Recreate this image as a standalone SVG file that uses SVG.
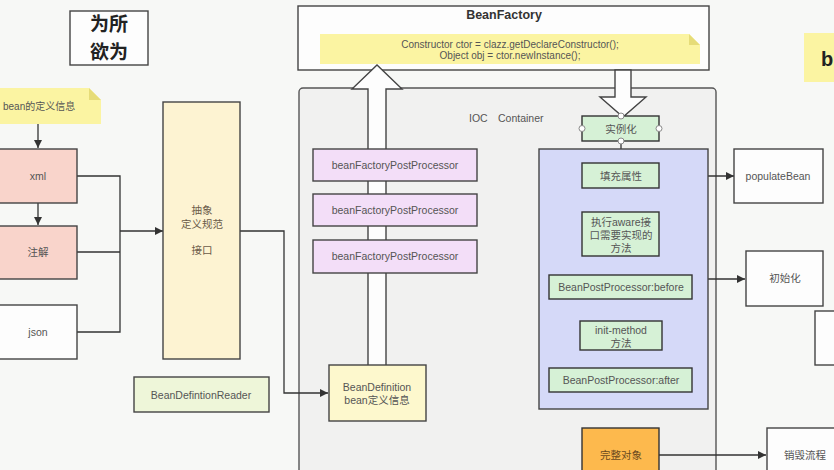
<svg xmlns="http://www.w3.org/2000/svg" width="834" height="470" viewBox="0 0 834 470">
<defs>
<style>
.t{font-family:"Liberation Sans","Noto Sans CJK SC",sans-serif;font-size:10.5px;fill:#555;text-anchor:middle;dominant-baseline:central}
.ttl{font-family:"Noto Sans CJK SC",sans-serif;font-size:19px;font-weight:bold;fill:#222;text-anchor:middle}
.b{stroke:#444;stroke-width:1.4}
.ln{fill:none;stroke:#333;stroke-width:1.3}
.grn{fill:#d6f1d6;stroke:#333;stroke-width:1.4}
.pur{fill:#f3def8;stroke:#444;stroke-width:1.4}
.wht{fill:#fdfdfd;stroke:#444;stroke-width:1.4}
.note{fill:#fbf4a2}
.fold{fill:#e6dc78}
.h{fill:#fff;stroke:#888;stroke-width:1}
</style>
<marker id="ar" viewBox="0 0 10 10" refX="10" refY="5" markerWidth="9" markerHeight="8" markerUnits="userSpaceOnUse" orient="auto">
<path d="M0,0 L10,5 L0,10 z" fill="#333"/>
</marker>
</defs>
<rect x="0" y="0" width="834" height="470" fill="#f7f8f6"/>

<g id="title">
<rect x="70" y="11" width="78" height="54" fill="#fdfdfd" stroke="#444" stroke-width="1.4"/>
<text class="ttl"><tspan x="109" y="31">为所</tspan><tspan x="109" y="59">欲为</tspan></text>
</g>

<g id="topright">
<rect x="804" y="33" width="40" height="49" class="note"/>
<text x="821" y="59" class="t" style="font-size:20px;font-weight:bold;fill:#222;text-anchor:start">b</text>
</g>

<g id="ioc-container">
<rect x="299" y="88" width="417" height="400" rx="4" fill="#f1f1f0" stroke="#555" stroke-width="1.4"/>
<text x="469" y="118" class="t" style="text-anchor:start">IOC</text>
<text x="498" y="118" class="t" style="text-anchor:start">Container</text>
</g>

<g id="beanfactory">
<rect x="298" y="6" width="411" height="64" fill="#fdfdfd" stroke="#444" stroke-width="1.4"/>
<text x="504" y="15" class="t" style="font-size:12.5px;font-weight:bold;fill:#333">BeanFactory</text>
<path d="M320,34 H689 L700,45 V64 H320 Z" class="note"/>
<path d="M689,34 L700,45 H689 Z" class="fold"/>
<text x="510" y="44" class="t" style="font-size:10px">Constructor ctor = clazz.getDeclareConstructor();</text>
<text x="510" y="55" class="t" style="font-size:10px">Object obj = ctor.newInstance();</text>
</g>

<g id="bean-note">
<path d="M-2,88 H89 L101,100 V124 H-2 Z" class="note"/>
<path d="M89,88 L101,100 H89 Z" class="fold"/>
<text x="3" y="106" class="t" style="text-anchor:start;font-size:10px">bean的定义信息</text>
</g>

<g id="connectors">
<line x1="38" y1="124" x2="38" y2="148" class="ln" marker-end="url(#ar)"/>
<line x1="38" y1="203" x2="38" y2="225" class="ln" marker-end="url(#ar)"/>
<polyline points="77,176 120,176 120,332 77,332" class="ln"/>
<line x1="77" y1="252" x2="120" y2="252" class="ln"/>
<line x1="120" y1="231" x2="163" y2="231" class="ln" marker-end="url(#ar)"/>
<polyline points="240,231 284,231 284,393 328,393" class="ln" marker-end="url(#ar)"/>
<polygon points="368,366 368,89 352,89 377,65 402,89 386,89 386,366" fill="#fdfdfd" stroke="#444" stroke-width="1.4"/>
<polygon points="615,70 615,97 600,97 623,117 646,97 631,97 631,70" fill="#fdfdfd" stroke="#444" stroke-width="1.4"/>
<line x1="621" y1="141" x2="621" y2="162" class="ln" marker-end="url(#ar)"/>
<line x1="621" y1="188" x2="621" y2="211" class="ln" marker-end="url(#ar)"/>
<line x1="621" y1="256" x2="621" y2="274" class="ln" marker-end="url(#ar)"/>
<line x1="621" y1="299" x2="621" y2="320" class="ln" marker-end="url(#ar)"/>
<line x1="621" y1="350" x2="621" y2="367" class="ln" marker-end="url(#ar)"/>
<line x1="659" y1="176" x2="734" y2="176" class="ln" marker-end="url(#ar)"/>
<line x1="708" y1="279" x2="745" y2="279" class="ln" marker-end="url(#ar)"/>
<line x1="659" y1="455" x2="766" y2="455" class="ln" marker-end="url(#ar)"/>
</g>

<g id="xml">
<rect x="-2" y="149" width="79" height="54" fill="#f9d4cb" class="b"/>
<text x="38" y="176" class="t">xml</text>
</g>
<g id="zhujie">
<rect x="-2" y="226" width="79" height="53" fill="#f9d4cb" class="b"/>
<text x="38" y="252" class="t">注解</text>
</g>
<g id="json">
<rect x="-2" y="305" width="79" height="54" class="wht"/>
<text x="38" y="332" class="t">json</text>
</g>

<g id="abstract">
<rect x="163" y="102" width="77" height="257" fill="#fdf3d2" class="b"/>
<text x="202" y="210" class="t" style="fill:#6a5a48">抽象</text>
<text x="202" y="224" class="t" style="fill:#6a5a48">定义规范</text>
<text x="202" y="250" class="t" style="fill:#6a5a48">接口</text>
</g>

<g id="reader">
<rect x="134" y="377" width="135" height="35" fill="#eef6d9" class="b"/>
<text x="201" y="395" class="t">BeanDefintionReader</text>
</g>

<g id="beandefinition">
<rect x="329" y="365" width="97" height="56" fill="#fdf8cd" class="b"/>
<text x="377" y="387" class="t">BeanDefinition</text>
<text x="377" y="400" class="t">bean定义信息</text>
</g>

<g id="bfpp1">
<rect x="313" y="149" width="164" height="32" class="pur"/>
<text x="395" y="165" class="t">beanFactoryPostProcessor</text>
</g>
<g id="bfpp2">
<rect x="313" y="194" width="164" height="32" class="pur"/>
<text x="395" y="210" class="t">beanFactoryPostProcessor</text>
</g>
<g id="bfpp3">
<rect x="313" y="240" width="164" height="33" class="pur"/>
<text x="395" y="256" class="t">beanFactoryPostProcessor</text>
</g>

<g id="lifecycle">
<rect x="539" y="149" width="169" height="260" fill="#d5d9f8" stroke="#444" stroke-width="1.4"/>
</g>

<g id="instantiate">
<rect x="582" y="116" width="77" height="25" class="grn"/>
<text x="621" y="129" class="t">实例化</text>
<circle cx="582" cy="128.5" r="3" class="h"/>
<circle cx="659" cy="128.5" r="3" class="h"/>
<circle cx="621" cy="116" r="3" class="h"/>
<circle cx="621" cy="141" r="3" class="h"/>
</g>
<g id="populate">
<rect x="582" y="163" width="77" height="25" class="grn"/>
<text x="621" y="176" class="t">填充属性</text>
</g>
<g id="aware">
<rect x="582" y="212" width="77" height="44" class="grn"/>
<text x="621" y="222" class="t">执行aware接</text>
<text x="621" y="235" class="t">口需要实现的</text>
<text x="621" y="248" class="t">方法</text>
</g>
<g id="bpp-before">
<rect x="549" y="275" width="143" height="24" class="grn"/>
<text x="621" y="287" class="t">BeanPostProcessor:before</text>
</g>
<g id="init-method">
<rect x="580" y="321" width="82" height="29" class="grn"/>
<text x="621" y="330" class="t">init-method</text>
<text x="621" y="343" class="t">方法</text>
</g>
<g id="bpp-after">
<rect x="549" y="368" width="143" height="24" class="grn"/>
<text x="621" y="380" class="t">BeanPostProcessor:after</text>
</g>
<g id="complete">
<rect x="582" y="428" width="77" height="60" fill="#fdb94d" stroke="#333" stroke-width="1.4"/>
<text x="621" y="455" class="t" style="fill:#6a4a20">完整对象</text>
</g>

<g id="populateBean">
<rect x="734" y="149" width="89" height="54" class="wht"/>
<text x="778" y="176" class="t">populateBean</text>
</g>
<g id="init">
<rect x="746" y="251" width="77" height="55" class="wht"/>
<text x="785" y="278" class="t">初始化</text>
</g>
<g id="partial">
<rect x="815" y="311" width="40" height="54" class="wht"/>
</g>
<g id="destroy">
<rect x="767" y="428" width="80" height="60" class="wht"/>
<text x="805" y="455" class="t">销毁流程</text>
</g>
</svg>
